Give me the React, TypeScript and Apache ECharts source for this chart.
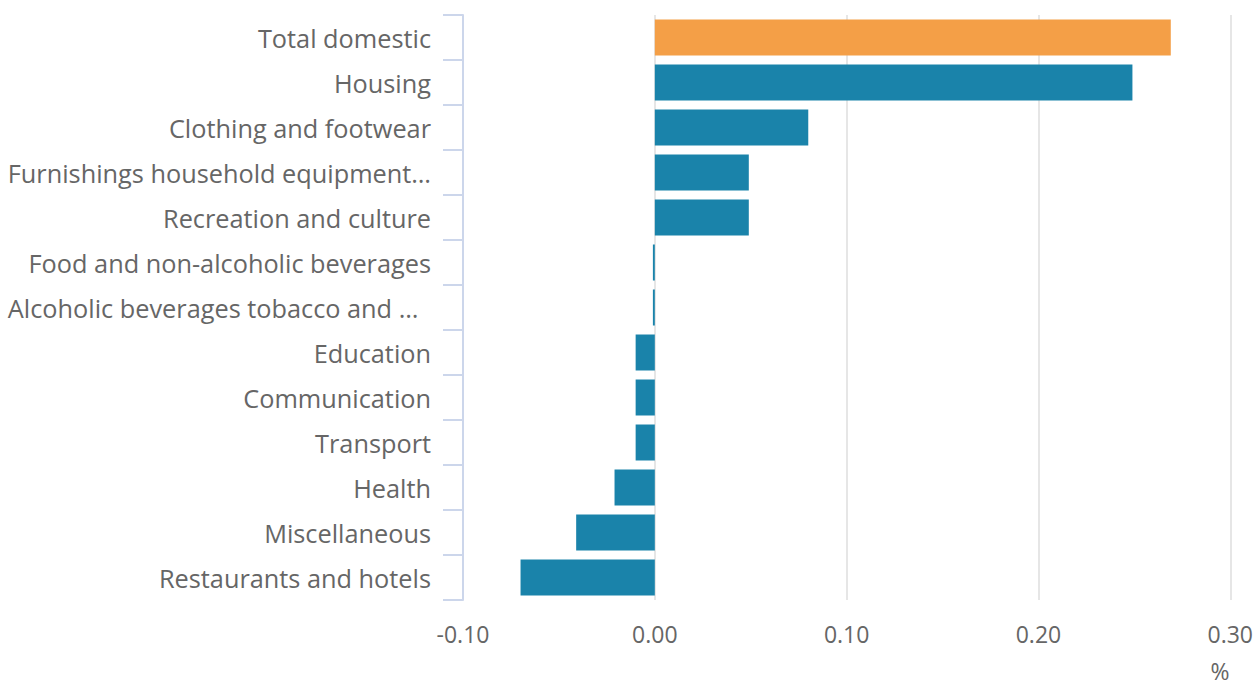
import React, { useEffect, useRef } from "react";
import * as echarts from "echarts";

const categories = [
  "Total domestic",
  "Housing",
  "Clothing and footwear",
  "Furnishings household equipment…",
  "Recreation and culture",
  "Food and non-alcoholic beverages",
  "Alcoholic beverages tobacco and …\u2002",
  "Education",
  "Communication",
  "Transport",
  "Health",
  "Miscellaneous",
  "Restaurants and hotels",
];
const values = [0.269, 0.249, 0.08, 0.049, 0.049, -0.001, -0.001, -0.01, -0.01, -0.01, -0.021, -0.041, -0.07];
const xTicks = { min: -0.1, max: 0.3, interval: 0.1 };
const unitLabel = "%";

const ORANGE = "#F49F47";
const BLUE = "#1A83AA";
const AXIS = "#CCD6EB";
const TEXT = "#666666";
const FONT = "'Open Sans', sans-serif";

export default function App() {
  const ref = useRef<HTMLDivElement>(null);
  useEffect(() => {
    document.body.style.margin = "0";
    const chart = echarts.init(ref.current!, null, { renderer: "svg" });
    chart.setOption({
      animation: false,
      textStyle: { fontFamily: FONT },
      grid: { left: 463, right: 25, top: 15, bottom: 91, containLabel: false },
      xAxis: {
        type: "value",
        min: xTicks.min,
        max: xTicks.max,
        interval: xTicks.interval,
        axisLine: { show: false },
        axisTick: { show: false },
        axisLabel: {
          color: TEXT,
          fontSize: 23,
          fontFamily: FONT,
          margin: 22,
          formatter: (v: number) => v.toFixed(2),
        },
        splitLine: { show: true, lineStyle: { color: "#E6E6E6", width: 2 } },
      },
      yAxis: {
        type: "category",
        inverse: true,
        data: categories,
        axisLine: { show: true, onZero: false, lineStyle: { color: AXIS, width: 2 } },
        axisTick: { show: true, length: 20, lineStyle: { color: AXIS, width: 2 } },
        axisLabel: {
          color: TEXT,
          fontSize: 25.3,
          fontFamily: FONT,
          margin: 32,
          padding: [3, 0, 0, 0],
        },
        splitLine: { show: false },
      },
      graphic: [
        {
          type: "text",
          x: 1220,
          y: 671,
          style: {
            text: unitLabel,
            fill: TEXT,
            font: `23px ${FONT}`,
            textAlign: "center",
            textVerticalAlign: "middle",
          },
        },
      ],
      series: [
        {
          type: "bar",
          barCategoryGap: "20%",
          data: values.map((v, i) => ({
            value: v,
            itemStyle: { color: i === 0 ? ORANGE : BLUE },
          })),
        },
      ],
    });
    return () => chart.dispose();
  }, []);
  return <div ref={ref} style={{ position: "absolute", left: 0, top: 0, width: 1256, height: 691 }} />;
}
